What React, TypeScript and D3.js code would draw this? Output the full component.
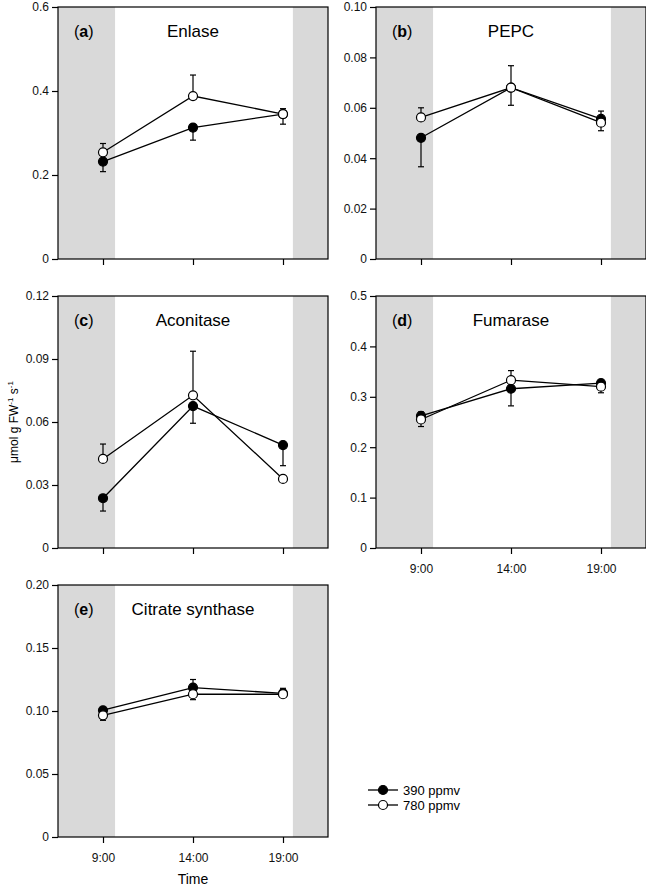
import React, { useEffect, useRef } from 'react'
import * as d3 from 'd3'

// sampling times (hours) and labels
const times = [9, 14, 19]
const timeLabels = ['9:00', '14:00', '19:00']

// (a) Enlase
const enlase390 = [0.232, 0.313, 0.345]
const enlase390Up = [0, 0, 0]
const enlase390Down = [0.024, 0.03, 0.024]
const enlase780 = [0.254, 0.388, 0.345]
const enlase780Up = [0.021, 0.05, 0.013]
const enlase780Down = [0, 0, 0]

// (b) PEPC
const pepc390 = [0.0481, 0.068, 0.0556]
const pepc390Up = [0, 0, 0.0031]
const pepc390Down = [0.0115, 0.007, 0]
const pepc780 = [0.0562, 0.068, 0.0541]
const pepc780Up = [0.0038, 0.0087, 0]
const pepc780Down = [0, 0, 0.0032]

// (c) Aconitase
const aconitase390 = [0.0237, 0.0676, 0.049]
const aconitase390Up = [0, 0, 0]
const aconitase390Down = [0.0061, 0.0082, 0.0098]
const aconitase780 = [0.0424, 0.0727, 0.0329]
const aconitase780Up = [0.0071, 0.021, 0]
const aconitase780Down = [0, 0, 0]

// (d) Fumarase
const fumarase390 = [0.262, 0.316, 0.327]
const fumarase390Up = [0.008, 0, 0]
const fumarase390Down = [0, 0.034, 0]
const fumarase780 = [0.255, 0.333, 0.32]
const fumarase780Up = [0, 0.019, 0]
const fumarase780Down = [0.014, 0, 0.012]

// (e) Citrate synthase
const citrate390 = [0.1006, 0.1186, 0.114]
const citrate390Up = [0, 0.0064, 0]
const citrate390Down = [0, 0, 0]
const citrate780 = [0.0966, 0.1133, 0.1133]
const citrate780Up = [0, 0, 0.0047]
const citrate780Down = [0.004, 0.0043, 0]

const seriesNames = ['390 ppmv', '780 ppmv']
// dark period (hours)
const darkBefore = 9.67
const darkAfter = 19.55

interface Series {
  values: number[]
  up: number[]
  down: number[]
  filled: boolean
}

interface Panel {
  letter: string
  title: string
  yMax: number
  yStep: number
  digits: number
  col: number
  row: number
  showX: boolean
  series: Series[]
}

const panels: Panel[] = [
  { letter: 'a', title: 'Enlase', yMax: 0.6, yStep: 0.2, digits: 1, col: 0, row: 0, showX: false,
    series: [
      { values: enlase390, up: enlase390Up, down: enlase390Down, filled: true },
      { values: enlase780, up: enlase780Up, down: enlase780Down, filled: false }
    ] },
  { letter: 'b', title: 'PEPC', yMax: 0.1, yStep: 0.02, digits: 2, col: 1, row: 0, showX: false,
    series: [
      { values: pepc390, up: pepc390Up, down: pepc390Down, filled: true },
      { values: pepc780, up: pepc780Up, down: pepc780Down, filled: false }
    ] },
  { letter: 'c', title: 'Aconitase', yMax: 0.12, yStep: 0.03, digits: 2, col: 0, row: 1, showX: false,
    series: [
      { values: aconitase390, up: aconitase390Up, down: aconitase390Down, filled: true },
      { values: aconitase780, up: aconitase780Up, down: aconitase780Down, filled: false }
    ] },
  { letter: 'd', title: 'Fumarase', yMax: 0.5, yStep: 0.1, digits: 1, col: 1, row: 1, showX: true,
    series: [
      { values: fumarase390, up: fumarase390Up, down: fumarase390Down, filled: true },
      { values: fumarase780, up: fumarase780Up, down: fumarase780Down, filled: false }
    ] },
  { letter: 'e', title: 'Citrate synthase', yMax: 0.2, yStep: 0.05, digits: 2, col: 0, row: 2, showX: true,
    series: [
      { values: citrate390, up: citrate390Up, down: citrate390Down, filled: true },
      { values: citrate780, up: citrate780Up, down: citrate780Down, filled: false }
    ] }
]

const W = 646
const H = 887
const colX = [58, 376]
const rowY = [7, 296, 585]
const pw = 270
const ph = 252
const font = 'Arial, "Liberation Sans", Helvetica, sans-serif'

export default function App() {
  const svgRef = useRef<SVGSVGElement>(null)

  useEffect(() => {
    if (!svgRef.current) return
    const svg = d3.select(svgRef.current)
    svg.selectAll('*').remove()
    svg.append('rect').attr('width', W).attr('height', H).attr('fill', '#fff')

    panels.forEach(p => {
      const g = svg.append('g')
        .attr('transform', `translate(${colX[p.col]},${rowY[p.row]})`)
        .style('font-family', font)

      const x = d3.scaleLinear().domain([6.5, 21.5]).range([0, pw])
      const y = d3.scaleLinear().domain([0, p.yMax]).range([ph, 0])

      // night shading
      g.append('rect').attr('x', 0).attr('y', 0)
        .attr('width', x(darkBefore)).attr('height', ph).attr('fill', '#d9d9d9')
      g.append('rect').attr('x', x(darkAfter)).attr('y', 0)
        .attr('width', pw - x(darkAfter)).attr('height', ph).attr('fill', '#d9d9d9')

      // axes
      const ticks = d3.range(0, p.yMax + p.yStep / 2, p.yStep)
      const yAxis = g.append('g')
        .call(d3.axisLeft(y).tickValues(ticks).tickSize(6).tickPadding(3)
          .tickFormat(d => (+d === 0 ? '0' : (+d).toFixed(p.digits))))
      const xAxis = g.append('g').attr('transform', `translate(0,${ph})`)
        .call(d3.axisBottom(x).tickValues(times).tickSize(6).tickPadding(10)
          .tickFormat((d, i) => (p.showX ? timeLabels[i] : '')))
      ;[yAxis, xAxis].forEach(a => {
        a.select('.domain').remove()
        a.selectAll('line').attr('stroke', '#000').attr('stroke-width', 1.2)
        a.selectAll('text').style('font-family', font).style('font-size', '12px').attr('fill', '#111')
      })

      // frame
      g.append('rect').attr('x', 0).attr('y', 0).attr('width', pw).attr('height', ph)
        .attr('fill', 'none').attr('stroke', '#000').attr('stroke-width', 1.2)

      // letter + title
      const lab = g.append('text').attr('x', 16).attr('y', 30)
        .style('font-size', '16px').attr('fill', '#000')
      lab.append('tspan').text('(')
      lab.append('tspan').style('font-weight', 'bold').text(p.letter)
      lab.append('tspan').text(')')
      g.append('text').attr('x', x(14)).attr('y', 30).attr('text-anchor', 'middle')
        .style('font-size', '17px').attr('fill', '#000').text(p.title)

      const line = d3.line<number>().x((_, i) => x(times[i])).y(v => y(v))

      p.series.forEach(s => {
        // one-sided error bars
        s.values.forEach((v, i) => {
          const cx = x(times[i])
          ;[[s.up[i], 1], [s.down[i], -1]].forEach(([e, dir]) => {
            if (!e) return
            const yEnd = y(v + dir * e)
            g.append('line').attr('x1', cx).attr('x2', cx).attr('y1', y(v)).attr('y2', yEnd)
              .attr('stroke', '#000').attr('stroke-width', 1.2)
            g.append('line').attr('x1', cx - 3).attr('x2', cx + 3).attr('y1', yEnd).attr('y2', yEnd)
              .attr('stroke', '#000').attr('stroke-width', 1.2)
          })
        })
        g.append('path').attr('d', line(s.values)).attr('fill', 'none')
          .attr('stroke', '#000').attr('stroke-width', 1.3)
      })
      p.series.forEach(s => {
        g.selectAll(null).data(s.values).enter().append('circle')
          .attr('cx', (_, i) => x(times[i])).attr('cy', v => y(v)).attr('r', 4.5)
          .attr('fill', s.filled ? '#000' : '#fff').attr('stroke', '#000').attr('stroke-width', 1.2)
      })
    })

    // x axis title
    svg.append('text').attr('x', colX[0] + pw / 2).attr('y', 884)
      .attr('text-anchor', 'middle').style('font-family', font).style('font-size', '14px')
      .text('Time')

    // y axis title
    const yl = svg.append('text')
      .attr('transform', `translate(18,${rowY[1] + ph / 2}) rotate(-90)`)
      .attr('text-anchor', 'middle').style('font-family', font).style('font-size', '12px')
    yl.append('tspan').text('μmol g FW')
    yl.append('tspan').attr('dy', -5).style('font-size', '8px').text('-1')
    yl.append('tspan').attr('dy', 5).text(' s')
    yl.append('tspan').attr('dy', -5).style('font-size', '8px').text('-1')

    // legend
    const lg = svg.append('g').attr('transform', 'translate(368,790)').style('font-family', font)
    seriesNames.forEach((name, i) => {
      const row = lg.append('g').attr('transform', `translate(0,${i * 15})`)
      row.append('line').attr('x1', 0).attr('x2', 30).attr('stroke', '#000').attr('stroke-width', 1.3)
      row.append('circle').attr('cx', 15).attr('r', 4.5)
        .attr('fill', i === 0 ? '#000' : '#fff').attr('stroke', '#000').attr('stroke-width', 1.2)
      row.append('text').attr('x', 35).attr('dy', '0.35em').style('font-size', '13px').text(name)
    })
  }, [])

  return (
    <svg
      ref={svgRef}
      width={W}
      height={H}
      style={{ position: 'absolute', left: 0, top: 0 }}
    />
  )
}
